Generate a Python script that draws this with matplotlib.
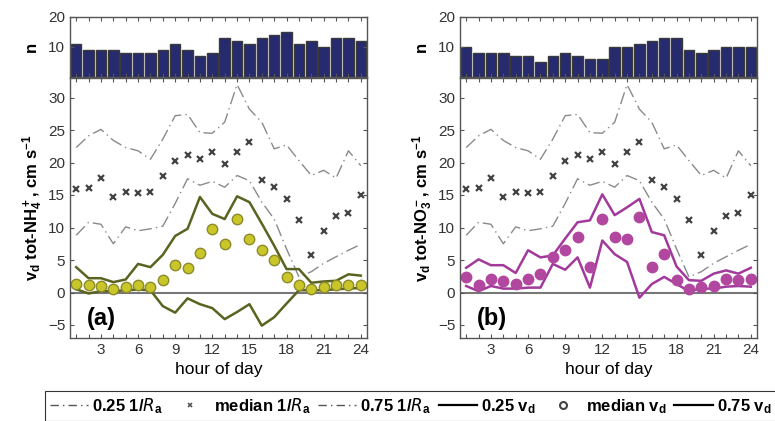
import numpy as np
import matplotlib.pyplot as plt
from matplotlib.lines import Line2D

plt.rcParams['font.family'] = ['Liberation Sans', 'DejaVu Sans']
plt.rcParams['mathtext.default'] = 'regular'

# stunden und anzahl der messungen
hours = np.arange(1, 25)
n_nh4 = [11, 9, 9, 9, 8, 8, 8, 9, 11, 9, 7, 8, 13, 12, 11, 13, 14, 15, 11, 12, 10, 13, 13, 12]
n_no3 = [10, 8, 8, 8, 7, 7, 5, 7, 8, 7, 6, 6, 10, 10, 11, 12, 13, 13, 9, 8, 9, 10, 10, 10]

# 1/Ra quartile (gleich fuer beide panels)
ra_q25 = [8.8, 10.8, 10.5, 7.5, 10.1, 9.5, 9.8, 10.2, 13.7, 17.5, 16.5, 17.1,
          16.2, 18.0, 17.2, 13.9, 11.3, 6.7, 2.4, 3.2, 4.5, 5.5, 6.5, 7.4]
ra_med = [16.0, 16.1, 17.6, 14.7, 15.4, 15.3, 15.5, 17.9, 20.3, 21.2, 20.5, 21.6,
          19.8, 21.6, 23.1, 17.3, 16.3, 14.4, 11.2, 5.7, 9.5, 11.7, 12.3, 15.0]
ra_q75 = [22.3, 24.1, 25.1, 23.4, 22.3, 21.8, 20.5, 23.6, 27.2, 27.4, 24.6, 24.5,
          26.2, 32.0, 28.2, 26.2, 22.1, 22.7, 20.3, 18.0, 18.8, 17.6, 21.8, 19.5]

# vd tot-NH4+
nh4_q25 = [0.5, -0.15, 0.2, 0.2, 0.35, 0.45, 0.35, -2.1, -3.1, -0.9, -1.8, -2.4,
           -4.1, -3.0, -1.8, -5.1, -3.8, -1.7, 0.35, 0.35, 0.35, 0.5, 0.6, 0.7]
nh4_med = [1.3, 1.2, 1.0, 0.6, 0.9, 1.2, 0.9, 2.0, 4.3, 3.8, 6.1, 9.7,
           7.5, 11.3, 8.2, 6.5, 5.0, 2.4, 1.1, 0.6, 0.9, 1.2, 1.2, 1.2]
nh4_q75 = [3.9, 2.2, 2.2, 1.6, 2.0, 4.4, 3.9, 5.8, 8.7, 9.8, 14.7, 12.1,
           11.3, 14.8, 13.9, 10.6, 7.2, 3.6, 3.6, 1.5, 1.7, 1.8, 2.8, 2.6]

# vd tot-NO3-
no3_q25 = [1.0, 0.2, 1.0, 0.6, 0.6, 0.75, 0.75, 4.4, 3.5, 5.4, 0.75, 8.0,
           5.9, 4.7, -0.8, 1.3, 2.4, 1.3, 0.2, 0.6, 0.6, 0.9, 1.0, 0.9]
no3_med = [2.4, 1.1, 2.1, 1.8, 1.3, 2.1, 2.9, 5.4, 6.6, 8.6, 3.9, 11.3,
           8.6, 8.2, 11.6, 4.0, 6.0, 1.9, 0.6, 0.9, 1.0, 2.1, 2.0, 2.1]
no3_q75 = [3.8, 5.1, 4.2, 4.2, 3.0, 6.5, 5.4, 5.7, 8.3, 10.8, 11.1, 15.1,
           11.9, 13.1, 14.4, 9.3, 8.8, 4.0, 1.9, 1.8, 2.9, 3.4, 2.9, 3.8]

W, H = 775, 421
fig = plt.figure(figsize=(W / 100, H / 100), dpi=100)

tick_col = '#333333'
spine_col = '#555555'


def style_axes(ax):
    for s in ax.spines.values():
        s.set_color(spine_col)
        s.set_linewidth(1.0)
    ax.tick_params(direction='in', length=3, width=0.8, colors=spine_col,
                   labelcolor=tick_col, labelsize=11, top=True, right=True)


def panel(x0, n_counts, q25, med, q75, line_col, face_col, edge_col, species, tag):
    left = x0 / W
    width = 297 / W
    ax_n = fig.add_axes([left, 1 - 77 / H, width, 60 / H])
    ax_v = fig.add_axes([left, 1 - 338 / H, width, 260 / H])

    # anzahl
    ax_n.bar(hours, n_counts, width=0.85, color='#262a6e', edgecolor='#3a3a3a', linewidth=1.0)
    ax_n.set_xlim(0.5, 24.5)
    ax_n.set_ylim(0, 20)
    ax_n.set_yticks([10, 20])
    ax_n.set_xticks(hours)
    ax_n.set_xticklabels([])
    ax_n.set_ylabel('n', fontsize=12, fontweight='bold')
    ax_n.yaxis.set_label_coords(-0.105, 0.5)
    style_axes(ax_n)

    # depositionsgeschwindigkeit
    ax_v.axhline(0, color='#777777', lw=1.5, zorder=1)
    ra_style = dict(color='#8a8a8a', lw=1.0, ls=(0, (9, 3, 1, 3)))
    ax_v.plot(hours, ra_q25, **ra_style)
    ax_v.plot(hours, ra_q75, **ra_style)
    ax_v.plot(hours, ra_med, ls='none', marker='x', ms=4.5, mew=1.6, color='#444444')
    ax_v.plot(hours, q25, color=line_col, lw=1.8)
    ax_v.plot(hours, q75, color=line_col, lw=1.8)
    ax_v.plot(hours, med, ls='none', marker='o', ms=7.5, mfc=face_col, mec=edge_col, mew=1.0)
    ax_v.set_xlim(0.5, 24.5)
    ax_v.set_ylim(-7, 33)
    ax_v.set_yticks(np.arange(-5, 31, 5))
    ax_v.set_xticks(hours)
    ax_v.set_xticklabels([str(h) if h % 3 == 0 else '' for h in hours])
    ax_v.set_xlabel('hour of day', fontsize=12.5, labelpad=4)
    ax_v.set_ylabel(r'v$_d$ tot-' + species + r', cm s$^{-1}$', fontsize=12,
                    fontweight='bold')
    ax_v.yaxis.set_label_coords(-0.085, 0.5)
    ax_v.text(1.9, -4.0, tag, fontsize=17, fontweight='bold', va='center')
    style_axes(ax_v)
    return ax_n, ax_v


panel(70, n_nh4, nh4_q25, nh4_med, nh4_q75, '#5a6420', '#c9c629', '#8c8a2a',
      r'NH$_4^+$', '(a)')
panel(460, n_no3, no3_q25, no3_med, no3_q75, '#a23a9c', '#b2479f', '#b2479f',
      r'NO$_3^-$', '(b)')

handles = [
    Line2D([], [], color='#555555', lw=1.0, ls=(0, (6, 3, 1, 3))),
    Line2D([], [], ls='none', marker='x', ms=3.5, mew=1.2, color='#555555'),
    Line2D([], [], color='#555555', lw=1.0, ls=(0, (6, 3, 1, 3))),
    Line2D([], [], color='black', lw=1.6),
    Line2D([], [], ls='none', marker='o', ms=5, mfc='white', mec='#444444', mew=1.5),
    Line2D([], [], color='black', lw=1.6),
]
labels = [r'0.25 1/$\mathit{R}_a$', r'median 1/$\mathit{R}_a$', r'0.75 1/$\mathit{R}_a$',
          r'0.25 v$_d$', r'median v$_d$', r'0.75 v$_d$']
leg = fig.legend(handles, labels, loc='upper left', bbox_to_anchor=(45 / W, 1 - 391 / H),
                 ncol=6, frameon=True, fancybox=False, edgecolor='black', borderaxespad=0,
                 borderpad=0.3, handlelength=2.3, handletextpad=0.25, columnspacing=0.45,
                 prop={'weight': 'bold', 'size': 12})
leg.get_frame().set_linewidth(0.8)

fig.savefig('out.png', dpi=100)
